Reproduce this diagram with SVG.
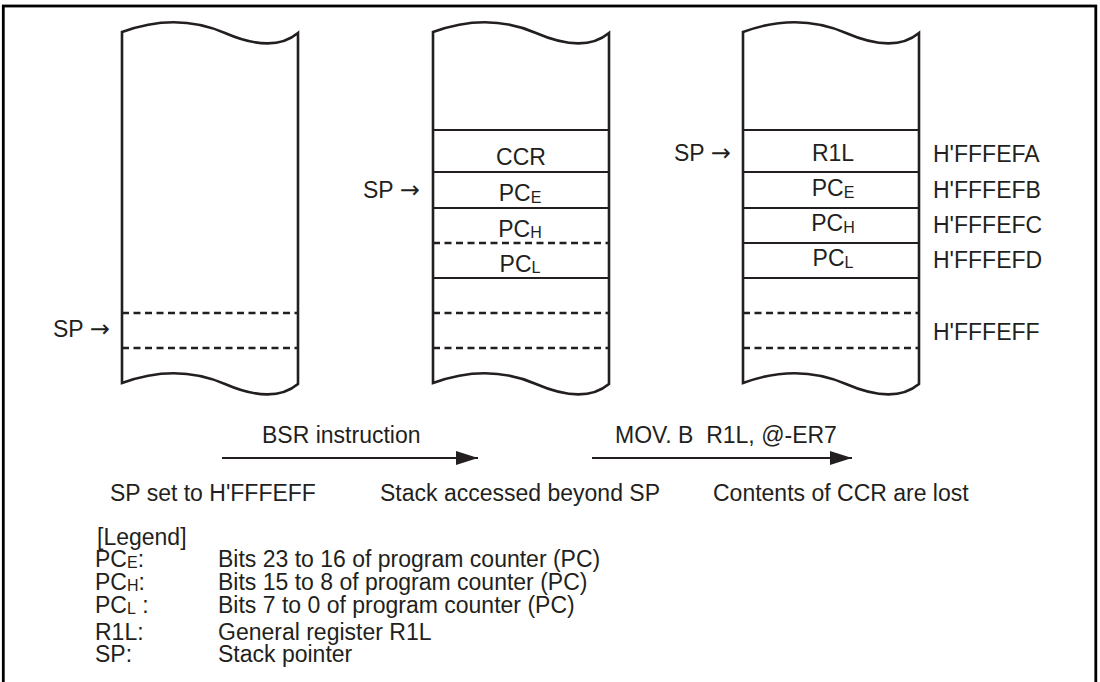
<svg xmlns="http://www.w3.org/2000/svg" xmlns:xlink="http://www.w3.org/1999/xlink" width="1100" height="682" viewBox="0 0 1100 682">
<style>
.t{font-family:"Liberation Sans",Arial,Helvetica,sans-serif;font-size:23px;fill:#231f20}
.c{text-anchor:middle}
.s{font-size:16px}
.arw{font-family:"DejaVu Sans",sans-serif;font-size:24px;font-weight:normal}
.col{fill:none;stroke:#231f20;stroke-width:2.6;stroke-linejoin:miter}
.ln{stroke:#231f20;stroke-width:2.2;fill:none}
.dl{stroke:#231f20;stroke-width:2.4;stroke-dasharray:7 4.5;fill:none}
.ar{stroke:#231f20;stroke-width:2.2;fill:none}
</style>
<defs>
<path id="colshape" d="M122,32 C160,18 195,20 225,33 S280,48 298,33 L298,384 C280,399 255,397 225,384 C195,371 160,369 122,383 Z"/>
<marker id="ah" markerWidth="22" markerHeight="14" refX="22" refY="7" orient="auto" markerUnits="userSpaceOnUse">
<path d="M0,0 L22,7 L0,14 Z" fill="#231f20"/>
</marker>
</defs>
<rect x="3.3" y="6" width="1092.5" height="700" fill="none" stroke="#000" stroke-width="2.8"/>

<g id="stack-before">
<use xlink:href="#colshape" href="#colshape" class="col"/>
<line class="dl" x1="122" y1="313" x2="298" y2="313"/>
<line class="dl" x1="122" y1="348" x2="298" y2="348"/>
<text class="t" x="53" y="337">SP <tspan class="arw">→</tspan></text>
</g>

<g id="stack-bsr">
<use xlink:href="#colshape" href="#colshape" class="col" transform="translate(311,0)"/>
<line class="ln" x1="433" y1="130" x2="608" y2="130"/>
<line class="ln" x1="433" y1="172" x2="608" y2="172"/>
<line class="ln" x1="433" y1="208" x2="608" y2="208"/>
<line class="dl" x1="433" y1="243" x2="608" y2="243"/>
<line class="ln" x1="433" y1="278" x2="608" y2="278"/>
<line class="dl" x1="433" y1="313" x2="608" y2="313"/>
<line class="dl" x1="433" y1="348" x2="608" y2="348"/>
<text class="t c" x="521" y="165">CCR</text>
<text class="t c" x="520" y="201">PC<tspan class="s" dy="1.5">E</tspan></text>
<text class="t c" x="520" y="236.5">PC<tspan class="s" dy="1.5">H</tspan></text>
<text class="t c" x="520" y="271.5">PC<tspan class="s" dy="1.5">L</tspan></text>
<text class="t" x="363" y="198">SP <tspan class="arw">→</tspan></text>
</g>

<g id="stack-mov">
<use xlink:href="#colshape" href="#colshape" class="col" transform="translate(621,0)"/>
<line class="ln" x1="743" y1="130" x2="918" y2="130"/>
<line class="ln" x1="743" y1="172" x2="918" y2="172"/>
<line class="ln" x1="743" y1="208" x2="918" y2="208"/>
<line class="ln" x1="743" y1="243" x2="918" y2="243"/>
<line class="ln" x1="743" y1="278" x2="918" y2="278"/>
<line class="dl" x1="743" y1="313" x2="918" y2="313"/>
<line class="dl" x1="743" y1="348" x2="918" y2="348"/>
<text class="t c" x="833" y="161">R1L</text>
<text class="t c" x="833" y="196">PC<tspan class="s" dy="2">E</tspan></text>
<text class="t c" x="833" y="231">PC<tspan class="s" dy="2">H</tspan></text>
<text class="t c" x="833" y="266">PC<tspan class="s" dy="2">L</tspan></text>
<text class="t" x="674" y="161">SP <tspan class="arw">→</tspan></text>
<text class="t" x="933" y="162">H'FFFEFA</text>
<text class="t" x="933" y="198">H'FFFEFB</text>
<text class="t" x="933" y="233">H'FFFEFC</text>
<text class="t" x="933" y="268">H'FFFEFD</text>
<text class="t" x="933" y="340">H'FFFEFF</text>
</g>

<g id="connectors">
<line class="ar" x1="222" y1="458" x2="478" y2="458" marker-end="url(#ah)"/>
<line class="ar" x1="592" y1="458" x2="852" y2="458" marker-end="url(#ah)"/>
</g>

<g id="labels">
<text class="t" x="262" y="443">BSR instruction</text>
<text class="t" x="615" y="443" xml:space="preserve">MOV. B  R1L, @-ER7</text>
<text class="t" x="110" y="501">SP set to H'FFFEFF</text>
<text class="t" x="380" y="501">Stack accessed beyond SP</text>
<text class="t" x="713" y="501">Contents of CCR are lost</text>
</g>

<g id="legend">
<text class="t" x="97" y="545">[Legend]</text>
<text class="t" x="95" y="567">PC<tspan class="s" dy="1">E</tspan><tspan dy="-1">:</tspan></text>
<text class="t" x="218" y="567">Bits 23 to 16 of program counter (PC)</text>
<text class="t" x="95" y="590">PC<tspan class="s" dy="1">H</tspan><tspan dy="-1">:</tspan></text>
<text class="t" x="218" y="590">Bits 15 to 8 of program counter (PC)</text>
<text class="t" x="95" y="613">PC<tspan class="s" dy="1">L</tspan><tspan dy="-1"> :</tspan></text>
<text class="t" x="218" y="613">Bits 7 to 0 of program counter (PC)</text>
<text class="t" x="95" y="640">R1L:</text>
<text class="t" x="218" y="640">General register R1L</text>
<text class="t" x="95" y="662">SP:</text>
<text class="t" x="218" y="662">Stack pointer</text>
</g>
</svg>
